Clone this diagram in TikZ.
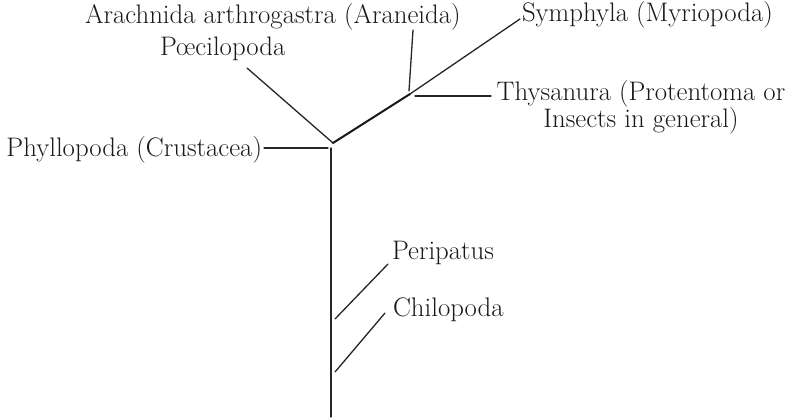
\documentclass[tikz,border=0pt]{standalone}
\usepackage{fontspec}
\begin{document}
\begin{tikzpicture}[x=1pt,y=-1pt,
  lbl/.style={inner sep=0pt,outer sep=0pt,font=\fontsize{26.8}{25}\selectfont,text=black!90},
  branch/.style={line width=1.3pt,black!85,line cap=round},
  stem/.style={line width=2pt,black!90,line cap=round}]
\useasboundingbox[fill=white] (0,0) rectangle (788,420);
% labels
\node[lbl,anchor=base west] (ara) at (85,24) {Arachnida arthrogastra (Araneida)};
\node[lbl,anchor=base west] (poe) at (160,56) {P\oe{}cilopoda};
\node[lbl,anchor=base west] (sym) at (522,22) {Symphyla (Myriopoda)};
\node[lbl,anchor=north,align=center] (thy) at (641,80) {Thysanura (Protentoma or\\Insects in general)};
\node[lbl,anchor=base east] (phy) at (262,157) {Phyllopoda (Crustacea)};
\node[lbl,anchor=base west] (per) at (392,259) {Peripatus};
\node[lbl,anchor=base west] (chi) at (393,316) {Chilopoda};
% points
\coordinate (j1) at (333,143);
\coordinate (j2) at (410,94);
\coordinate (tt) at (331,148);
\coordinate (tb) at (331,417);
\coordinate (phyE) at (264,148);
\coordinate (phyJ) at (328,148);
\coordinate (poeE) at (247,68);
\coordinate (symE) at (520,19);
\coordinate (araE) at (413,30);
\coordinate (araJ) at (409,91);
\coordinate (thyJ) at (415,96);
\coordinate (thyE) at (491,96);
\coordinate (perE) at (388,264);
\coordinate (perJ) at (335,319);
\coordinate (chiE) at (385,313);
\coordinate (chiJ) at (335,372);
% connectors
\draw[branch] (tt) -- (tb);
\draw[branch] (phyE) -- (phyJ);
\draw[branch] (poeE) -- (j1);
\draw[stem] (j1) -- (j2);
\draw[branch] (j2) -- (symE);
\draw[branch] (araE) -- (araJ);
\draw[branch] (thyJ) -- (thyE);
\draw[branch] (perE) -- (perJ);
\draw[branch] (chiE) -- (chiJ);
\end{tikzpicture}
\end{document}
